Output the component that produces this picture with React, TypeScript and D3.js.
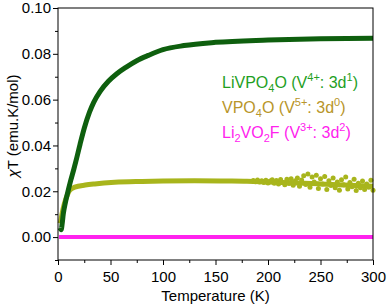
import React, { useRef, useEffect } from 'react';
import * as d3 from 'd3';

// LiVPO4O  chi*T vs T
const greenT = [2, 3, 4, 5, 7, 9, 12, 15, 17, 21, 25, 30, 34, 40, 48, 56, 65, 75, 86, 100, 120, 150, 200, 250, 300];
const greenV = [0.0040, 0.0032, 0.0060, 0.0100, 0.0150, 0.0190, 0.0245, 0.0295, 0.0330, 0.0405, 0.0475, 0.0545, 0.0588, 0.0635, 0.0680, 0.0713, 0.0742, 0.0770, 0.0793, 0.0818, 0.0836, 0.0850, 0.0860, 0.0866, 0.0868];
// VPO4O  chi*T (mean) vs T
const oliveT = [2, 3, 4, 6, 9, 11, 16, 26, 35, 54, 80, 100, 130, 160, 180, 200, 250, 300];
const oliveV = [0.0060, 0.0080, 0.0105, 0.0145, 0.0185, 0.0203, 0.0218, 0.0227, 0.0232, 0.0239, 0.0243, 0.0245, 0.0246, 0.0245, 0.0244, 0.0241, 0.0232, 0.0222];
// noisy tail of VPO4O
const noiseT = [186, 188, 190, 192, 194, 196, 198, 200, 202, 204, 206, 208, 210, 212, 214, 216, 218, 220, 222, 224, 226, 228, 230, 232, 234, 236, 238, 240, 242, 244, 246, 248, 250, 252, 254, 256, 258, 260, 262, 264, 266, 268, 270, 272, 274, 276, 278, 280, 282, 284, 286, 288, 290, 292, 294, 296, 298, 300];
const noiseV = [0.0247, 0.0242, 0.0249, 0.0240, 0.0246, 0.0238, 0.0248, 0.0236, 0.0245, 0.0250, 0.0235, 0.0247, 0.0232, 0.0251, 0.0238, 0.0229, 0.0252, 0.0234, 0.0255, 0.0226, 0.0246, 0.0258, 0.0222, 0.0249, 0.0268, 0.0230, 0.0275, 0.0218, 0.0262, 0.0240, 0.0270, 0.0212, 0.0255, 0.0232, 0.0265, 0.0208, 0.0246, 0.0225, 0.0258, 0.0215, 0.0240, 0.0205, 0.0250, 0.0228, 0.0262, 0.0210, 0.0238, 0.0220, 0.0252, 0.0203, 0.0235, 0.0215, 0.0245, 0.0208, 0.0232, 0.0218, 0.0248, 0.0205];
// Li2VO2F chi*T vs T
const magT = [1, 300];
const magV = [0, 0];

const xTicks = [0, 50, 100, 150, 200, 250, 300];
const xMinor = [25, 75, 125, 175, 225, 275];
const yTicks = [0.00, 0.02, 0.04, 0.06, 0.08, 0.10];
const yMinor = [-0.01, 0.01, 0.03, 0.05, 0.07, 0.09];

const W = 387, H = 306;
const margin = { left: 58, top: 8, right: 14, bottom: 46 };

const App = () => {
    const ref = useRef<SVGGElement>(null);

    useEffect(() => {
        const g = d3.select(ref.current);
        g.selectAll('*').remove();
        const width = W - margin.left - margin.right;
        const height = H - margin.top - margin.bottom;

        const x = d3.scaleLinear().domain([0, 300]).range([0, width]);
        const y = d3.scaleLinear().domain([-0.01, 0.10]).range([height, 0]);
        const font = 'Liberation Sans, Arial, sans-serif';

        const line = d3.line<[number, number]>()
            .x(d => x(d[0]))
            .y(d => y(d[1]))
            .curve(d3.curveMonotoneX);

        const zip = (ts: number[], vs: number[]) => ts.map((t, i) => [t, vs[i]] as [number, number]);

        // Li2VO2F
        g.append('path')
            .attr('d', line(zip(magT, magV)))
            .attr('fill', 'none').attr('stroke', '#ff22ee').attr('stroke-width', 4);

        // VPO4O
        g.append('path')
            .attr('d', line(zip(oliveT, oliveV)))
            .attr('fill', 'none').attr('stroke', '#a8b51c').attr('stroke-width', 5);
        g.selectAll('circle.noise')
            .data(zip(noiseT, noiseV))
            .enter().append('circle')
            .attr('cx', d => x(d[0]))
            .attr('cy', d => y(d[1]))
            .attr('r', 2.5)
            .attr('fill', '#a8b51c');

        // LiVPO4O
        g.append('path')
            .attr('d', line(zip(greenT, greenV)))
            .attr('fill', 'none').attr('stroke', '#0e5f0e').attr('stroke-width', 5);

        // frame
        g.append('rect')
            .attr('width', width).attr('height', height)
            .attr('fill', 'none').attr('stroke', '#000').attr('stroke-width', 1);

        // axes
        const xAxis = g.append('g')
            .attr('transform', `translate(0,${height})`)
            .call(d3.axisBottom(x).tickValues(xTicks).tickSize(5).tickFormat(d3.format('d')));
        g.append('g')
            .attr('transform', `translate(0,${height})`)
            .call(d3.axisBottom(x).tickValues(xMinor).tickSize(3).tickFormat(() => ''));
        const yAxis = g.append('g')
            .call(d3.axisLeft(y).tickValues(yTicks).tickSize(5).tickFormat(d3.format('.2f')));
        g.append('g')
            .call(d3.axisLeft(y).tickValues(yMinor).tickSize(3).tickFormat(() => ''));
        g.selectAll('.domain').remove();
        g.selectAll('.tick line').attr('stroke', '#000');
        xAxis.selectAll('text').attr('font-size', 15).attr('font-family', font).attr('fill', '#000').attr('dy', '0.95em');
        yAxis.selectAll('text').attr('font-size', 15).attr('font-family', font).attr('fill', '#000').attr('x', -7);

        // axis titles
        g.append('text')
            .attr('x', width / 2).attr('y', height + 41)
            .attr('text-anchor', 'middle')
            .attr('font-size', 15).attr('font-family', font)
            .text('Temperature (K)');
        const yt = g.append('text')
            .attr('transform', `translate(${-40},${height / 2 - 8}) rotate(-90)`)
            .attr('text-anchor', 'middle')
            .attr('font-size', 15).attr('font-family', font);
        yt.append('tspan').attr('font-style', 'italic').text('χ');
        yt.append('tspan').text('T (emu.K/mol)');

        // legend
        const legend = [
            { color: '#1fa01f', parts: [['LiVPO', ''], ['4', 'sub'], ['O (V', ''], ['4+', 'sup'], [': 3d', ''], ['1', 'sup'], [')', '']] },
            { color: '#b8952a', parts: [['VPO', ''], ['4', 'sub'], ['O (V', ''], ['5+', 'sup'], [': 3d', ''], ['0', 'sup'], [')', '']] },
            { color: '#ff22ee', parts: [['Li', ''], ['2', 'sub'], ['VO', ''], ['2', 'sub'], ['F (V', ''], ['3+', 'sup'], [': 3d', ''], ['2', 'sup'], [')', '']] },
        ];
        legend.forEach((item, i) => {
            const t = g.append('text')
                .attr('x', 222 - margin.left)
                .attr('y', 88 - margin.top + i * 25)
                .attr('font-size', 16).attr('font-family', font)
                .attr('fill', item.color);
            let off = 0;
            item.parts.forEach(([s, k]) => {
                const sp = t.append('tspan').text(s);
                const shift = k === 'sub' ? 4 : k === 'sup' ? -7 : 0;
                if (k !== '') sp.attr('font-size', 11);
                sp.attr('dy', shift - off);
                off = shift;
            });
        });
    }, []);

    return (
        <svg width={W} height={H} style={{ position: 'absolute', left: 0, top: 0, background: '#fff' }}>
            <g ref={ref} transform={`translate(${margin.left},${margin.top})`}></g>
        </svg>
    );
};

export default App;
